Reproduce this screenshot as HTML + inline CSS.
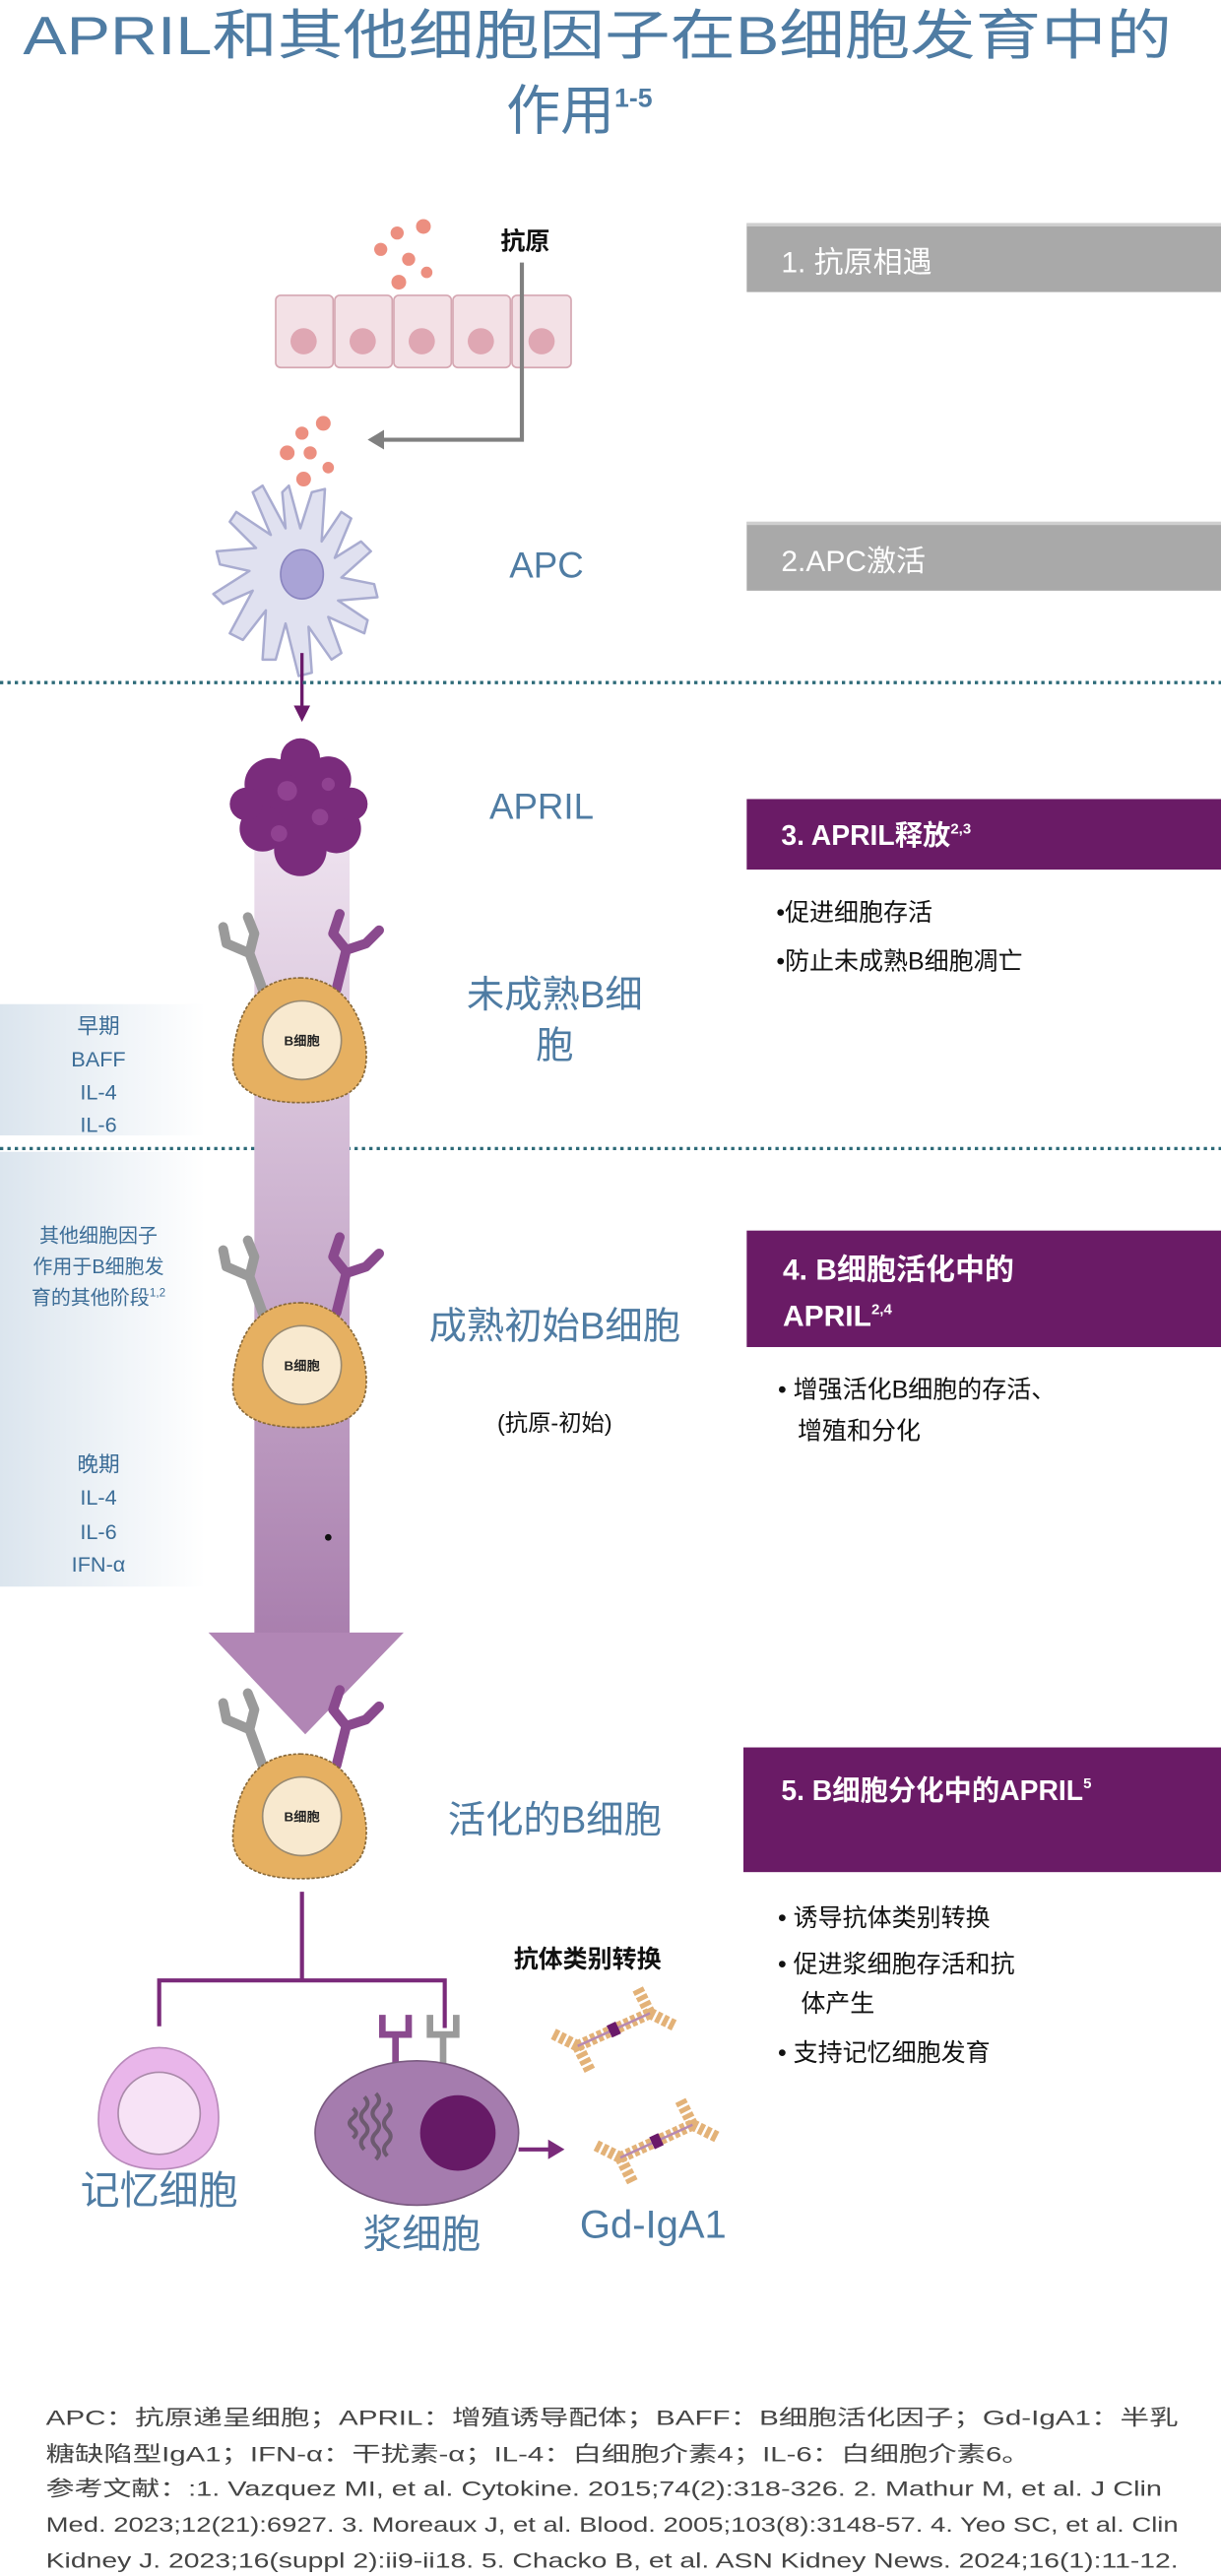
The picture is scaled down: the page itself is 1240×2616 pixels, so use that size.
<!DOCTYPE html>
<html><head><meta charset="utf-8"><style>
html,body{margin:0;padding:0;background:#fff}
svg{display:block}
text{font-family:"Liberation Sans","Noto Sans CJK SC",sans-serif}
</style></head><body>
<svg width="1240" height="2616" viewBox="0 0 744 1570" preserveAspectRatio="none" xmlns="http://www.w3.org/2000/svg">
<defs>
<linearGradient id="col" x1="0" y1="0" x2="0" y2="1">
<stop offset="0" stop-color="#efe4f0"/><stop offset="1" stop-color="#a97fae"/></linearGradient>
<linearGradient id="lp" x1="0" y1="0" x2="1" y2="0">
<stop offset="0" stop-color="#dbe5ee"/><stop offset="1" stop-color="#ffffff"/></linearGradient>
<g id="bcell">
<path d="M0,-38 C30,-38 42,-6 40,14 C38,34 20,38 0,38 C-22,38 -43,32 -41,10 C-39,-16 -28,-38 0,-38Z" fill="#e6b061" stroke="#8a6a3a" stroke-width="1" stroke-dasharray="2,1"/>
<circle cx="1" cy="0" r="24" fill="#f8e9cf" stroke="#9a8a70" stroke-width="1"/>
<text x="1" y="3" font-size="8" text-anchor="middle" fill="#222" font-weight="bold">B细胞</text>
</g>
<g id="recg"><path d="M0,0 L-8,-22 M-8,-22 L-22,-28 L-24,-38 M-8,-22 L-5,-34 L-9,-44" fill="none" stroke="#9a9a9a" stroke-width="6" stroke-linecap="round" stroke-linejoin="round"/></g>
<g id="recp"><path d="M0,0 L6,-24 M6,-24 L-2,-34 L2,-46 M6,-24 L18,-28 L26,-36" fill="none" stroke="#8a4a8e" stroke-width="6" stroke-linecap="round" stroke-linejoin="round"/></g>
<g id="ab">
<path d="M-22,10 L22,-10" stroke="#e3b278" stroke-width="7" stroke-dasharray="3,1.5"/>
<path d="M-22,10 L-38,2 M-22,10 L-14,26 M22,-10 L14,-26 M22,-10 L38,-2" stroke="#e3b278" stroke-width="7" stroke-dasharray="3,1.5"/>
<path d="M-22,10 L22,-10" stroke="#b88ab0" stroke-width="1.5"/>
<rect x="-3" y="-4" width="6" height="8" fill="#6a1a6a" transform="rotate(-25)"/>
</g>
</defs>

<text x="364" y="33" font-size="33" fill="#4f7ca3" text-anchor="middle" textLength="700" lengthAdjust="spacingAndGlyphs">APRIL和其他细胞因子在B细胞发育中的</text>
<text x="353" y="79" font-size="33" fill="#4f7ca3" text-anchor="middle">作用<tspan font-size="16" dy="-14" font-weight="bold">1-5</tspan></text>

<rect x="455" y="136" width="289" height="42" fill="#a9a9a9"/>
<rect x="455" y="136" width="289" height="2" fill="#cfcfcf"/>
<text x="476" y="166" font-size="18" fill="#fff">1. 抗原相遇</text>
<rect x="455" y="318" width="289" height="42" fill="#a9a9a9"/>
<rect x="455" y="318" width="289" height="2" fill="#cfcfcf"/>
<text x="476" y="348" font-size="18" fill="#fff">2.APC激活</text>

<text x="305" y="152" font-size="15" fill="#111" font-weight="bold">抗原</text>
<g fill="#ec8f80">
<circle cx="242" cy="142" r="4"/><circle cx="258" cy="138" r="4.5"/><circle cx="232" cy="152" r="4"/><circle cx="249" cy="158" r="4"/><circle cx="260" cy="166" r="3.5"/><circle cx="243" cy="172" r="4.5"/>
<circle cx="184" cy="264" r="4"/><circle cx="197" cy="258" r="4.5"/><circle cx="175" cy="276" r="4.5"/><circle cx="189" cy="276" r="4"/><circle cx="200" cy="285" r="3.5"/><circle cx="185" cy="292" r="4.5"/>
</g>
<g fill="#f3e1e6" stroke="#d5a7b2" stroke-width="1">
<rect x="168" y="180" width="35" height="44" rx="3"/><rect x="204" y="180" width="35" height="44" rx="3"/><rect x="240" y="180" width="35" height="44" rx="3"/><rect x="276" y="180" width="35" height="44" rx="3"/><rect x="312" y="180" width="36" height="44" rx="3"/>
</g>
<g fill="#dfa7b3"><circle cx="185" cy="208" r="8"/><circle cx="221" cy="208" r="8"/><circle cx="257" cy="208" r="8"/><circle cx="293" cy="208" r="8"/><circle cx="330" cy="208" r="8"/></g>
<path d="M318,160 V268 H232" fill="none" stroke="#808080" stroke-width="2.5"/>
<path d="M224,268 L234,262 L234,274Z" fill="#808080"/>

<g stroke="#a9acd0" stroke-width="1.5" fill="#e0e1f0" stroke-linejoin="round">
<path d="M183,322 L176,296 L172,300 L174,322 L160,296 L154,300 L165,326 L144,312 L140,318 L156,334 L132,336 L134,344 L152,348 L130,362 L136,368 L154,360 L140,386 L148,390 L162,372 L160,402 L168,402 L174,380 L182,412 L190,410 L188,382 L202,402 L208,398 L200,376 L222,386 L224,378 L206,366 L230,364 L228,356 L208,352 L226,336 L220,330 L204,340 L214,316 L208,312 L196,330 L198,298 L190,300Z"/>
</g>
<ellipse cx="184" cy="350" rx="13" ry="15" fill="#a9a3d6" stroke="#8b86c0"/>
<text x="333" y="352" font-size="22" fill="#4f7ca3" text-anchor="middle">APC</text>
<path d="M184,398 V430" stroke="#6a1a6a" stroke-width="2"/>
<path d="M179,430 L189,430 L184,440Z" fill="#6a1a6a"/>

<line x1="0" y1="416" x2="744" y2="416" stroke="#2d6a78" stroke-width="2" stroke-dasharray="2,2.5"/>
<line x1="0" y1="700" x2="744" y2="700" stroke="#2d6a78" stroke-width="2" stroke-dasharray="2,2.5"/>

<rect x="155" y="500" width="58" height="496" fill="url(#col)"/>
<path d="M127,995 L246,995 L186,1057Z" fill="#b186b5"/>

<rect x="0" y="612" width="125" height="80" fill="url(#lp)"/>
<rect x="0" y="702" width="125" height="265" fill="url(#lp)"/>
<g font-size="13" fill="#3c6d97" text-anchor="middle">
<text x="60" y="630">早期</text><text x="60" y="650">BAFF</text><text x="60" y="670">IL-4</text><text x="60" y="690">IL-6</text>
<text x="60" y="757" font-size="12">其他细胞因子</text><text x="60" y="776" font-size="12">作用于B细胞发</text><text x="60" y="795" font-size="12">育的其他阶段<tspan font-size="7" dy="-5">1,2</tspan></text>
<text x="60" y="897">晚期</text><text x="60" y="917">IL-4</text><text x="60" y="938">IL-6</text><text x="60" y="958">IFN-α</text>
</g>

<g fill="#7a2c7c">
<circle cx="183" cy="490" r="30"/><circle cx="165" cy="478" r="16"/><circle cx="200" cy="475" r="14"/><circle cx="160" cy="505" r="14"/><circle cx="205" cy="505" r="15"/><circle cx="183" cy="518" r="16"/><circle cx="183" cy="462" r="12"/><circle cx="214" cy="490" r="10"/><circle cx="150" cy="490" r="10"/>
</g>
<g fill="#9a4c9a" opacity="0.7"><circle cx="175" cy="482" r="6"/><circle cx="195" cy="498" r="5"/><circle cx="170" cy="508" r="5"/><circle cx="200" cy="478" r="4"/></g>
<text x="330" y="499" font-size="22" fill="#4f7ca3" text-anchor="middle">APRIL</text>

<rect x="455" y="487" width="289" height="43" fill="#6a1b66"/>
<text x="476" y="515" font-size="17" fill="#fff" font-weight="bold">3. APRIL释放<tspan font-size="9" dy="-7">2,3</tspan></text>
<text x="473" y="561" font-size="15" fill="#111">•促进细胞存活</text>
<text x="473" y="591" font-size="15" fill="#111">•防止未成熟B细胞凋亡</text>

<use href="#recg" x="160" y="603"/><use href="#recp" x="205" y="603"/>
<use href="#bcell" x="183" y="634"/>
<text x="338" y="614" font-size="23" fill="#4f7ca3" text-anchor="middle">未成熟B细</text>
<text x="338" y="645" font-size="23" fill="#4f7ca3" text-anchor="middle">胞</text>

<use href="#recg" x="160" y="800"/><use href="#recp" x="205" y="800"/>
<use href="#bcell" x="183" y="832"/>
<text x="338" y="816" font-size="23" fill="#4f7ca3" text-anchor="middle">成熟初始B细胞</text>
<text x="338" y="872" font-size="14" fill="#111" text-anchor="middle">(抗原-初始)</text>
<circle cx="200" cy="937" r="2" fill="#111"/>

<rect x="455" y="750" width="289" height="71" fill="#6a1b66"/>
<text x="477" y="780" font-size="18" fill="#fff" font-weight="bold">4. B细胞活化中的</text>
<text x="477" y="808" font-size="18" fill="#fff" font-weight="bold">APRIL<tspan font-size="9" dy="-7">2,4</tspan></text>
<text x="474" y="852" font-size="15" fill="#111">• 增强活化B细胞的存活、</text>
<text x="486" y="877" font-size="15" fill="#111">增殖和分化</text>

<use href="#recg" x="160" y="1076"/><use href="#recp" x="205" y="1076"/>
<use href="#bcell" x="183" y="1107"/>
<text x="338" y="1117" font-size="23" fill="#4f7ca3" text-anchor="middle">活化的B细胞</text>

<rect x="453" y="1065" width="291" height="76" fill="#6a1b66"/>
<text x="476" y="1097" font-size="17" fill="#fff" font-weight="bold">5. B细胞分化中的APRIL<tspan font-size="9" dy="-7">5</tspan></text>
<text x="474" y="1174" font-size="15" fill="#111">• 诱导抗体类别转换</text>
<text x="474" y="1202" font-size="15" fill="#111">• 促进浆细胞存活和抗</text>
<text x="488" y="1226" font-size="15" fill="#111">体产生</text>
<text x="474" y="1256" font-size="15" fill="#111">• 支持记忆细胞发育</text>

<text x="358" y="1199" font-size="15" fill="#111" text-anchor="middle" font-weight="bold">抗体类别转换</text>

<path d="M184,1153 V1207 M97,1235 V1207 H271 V1236" fill="none" stroke="#7a2a7a" stroke-width="2.5"/>

<path d="M97,1248 C120,1248 135,1270 133,1295 C131,1315 115,1322 97,1322 C78,1322 60,1315 60,1292 C60,1268 76,1248 97,1248Z" fill="#e9b6ea" stroke="#b98abb"/>
<circle cx="97" cy="1288" r="25" fill="#f7e3f6" stroke="#aa8aaa"/>
<text x="97" y="1343" font-size="24" fill="#4f7ca3" text-anchor="middle">记忆细胞</text>

<path d="M241,1262 V1240 M233,1228 V1240 H249 V1228" fill="none" stroke="#8a4a8e" stroke-width="4"/>
<path d="M270,1262 V1240 M262,1228 V1240 H278 V1228" fill="none" stroke="#9a9a9a" stroke-width="4"/>
<ellipse cx="254" cy="1300" rx="62" ry="44" fill="#a57cae" stroke="#7a5a80"/>
<g stroke="#6d5a70" stroke-width="2.5" fill="none">
<path d="M215,1285 q4,3 0,6 q-4,3 0,6 q4,3 0,6"/><path d="M222,1278 q4,4 0,8 q-4,4 0,8 q4,4 0,8 q-4,4 0,8"/><path d="M229,1276 q4,4 0,8 q-4,4 0,8 q4,4 0,8 q-4,4 0,8 q4,4 0,8"/><path d="M236,1282 q4,4 0,8 q-4,4 0,8 q4,4 0,8 q-4,4 0,8"/>
</g>
<circle cx="279" cy="1300" r="23" fill="#661a66"/>
<path d="M316,1310 H336" stroke="#7a2a7a" stroke-width="2.5"/>
<path d="M344,1310 L334,1304 L334,1316Z" fill="#7a2a7a"/>
<text x="257" y="1370" font-size="24" fill="#4f7ca3" text-anchor="middle">浆细胞</text>
<text x="398" y="1364" font-size="24" fill="#4f7ca3" text-anchor="middle">Gd-IgA1</text>
<use href="#ab" x="374" y="1237"/>
<use href="#ab" x="400" y="1305"/>

<g font-size="13" fill="#444">
<text x="28" y="1478" textLength="690" lengthAdjust="spacingAndGlyphs">APC：抗原递呈细胞；APRIL：增殖诱导配体；BAFF：B细胞活化因子；Gd-IgA1：半乳</text>
<text x="28" y="1500" textLength="600" lengthAdjust="spacingAndGlyphs">糖缺陷型IgA1；IFN-α：干扰素-α；IL-4：白细胞介素4；IL-6：白细胞介素6。</text>
<text x="28" y="1521" textLength="680" lengthAdjust="spacingAndGlyphs">参考文献：:1. Vazquez MI, et al. Cytokine. 2015;74(2):318-326. 2. Mathur M, et al. J Clin</text>
<text x="28" y="1543" textLength="690" lengthAdjust="spacingAndGlyphs">Med. 2023;12(21):6927. 3. Moreaux J, et al. Blood. 2005;103(8):3148-57. 4. Yeo SC, et al. Clin</text>
<text x="28" y="1565" textLength="690" lengthAdjust="spacingAndGlyphs">Kidney J. 2023;16(suppl 2):ii9-ii18. 5. Chacko B, et al. ASN Kidney News. 2024;16(1):11-12.</text>
</g>
</svg>
</body></html>
